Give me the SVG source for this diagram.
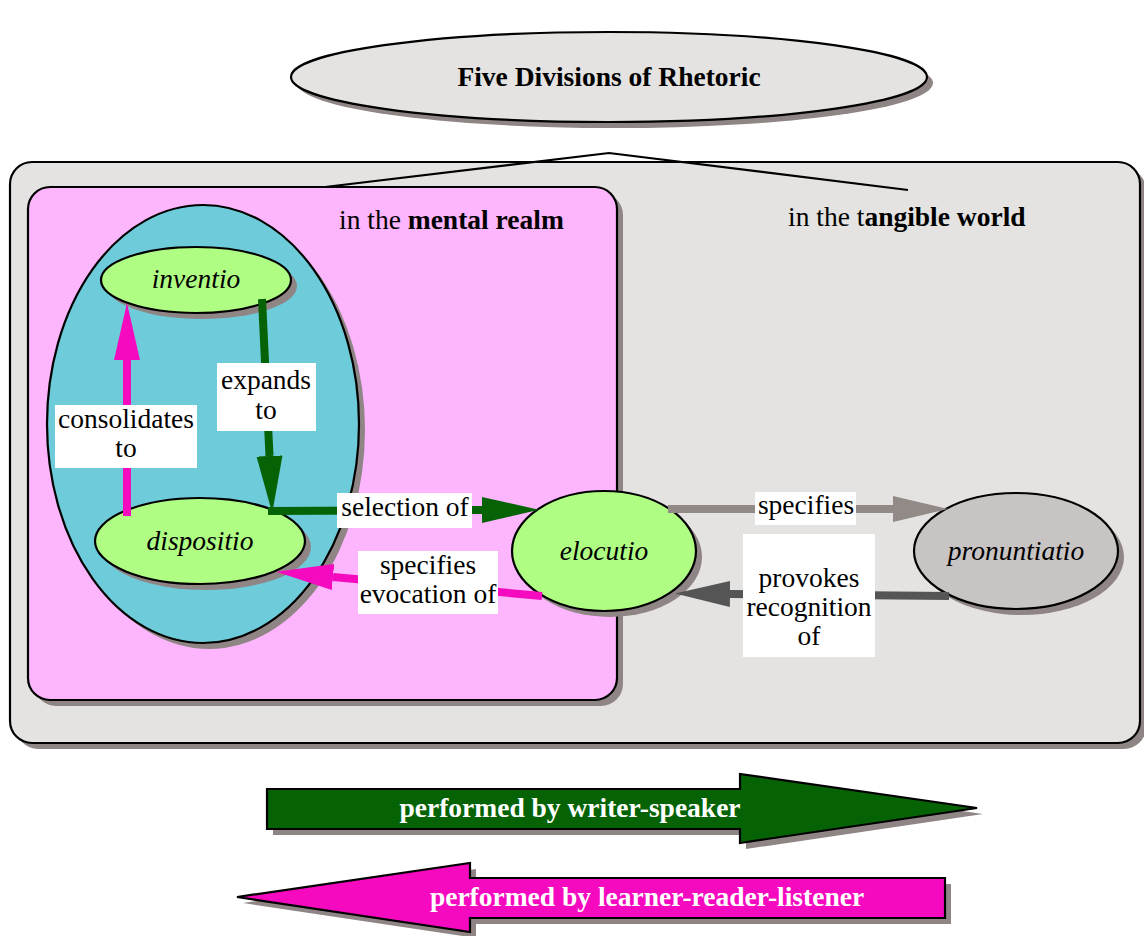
<svg xmlns="http://www.w3.org/2000/svg" width="1144" height="936" viewBox="0 0 1144 936">
<style>
.sh{fill:#8f8585;stroke:none}
.ol{stroke:#000;stroke-width:2.2}
.t{font-family:"Liberation Serif","Times New Roman",serif;font-size:27.5px;fill:#000}
.it{font-style:italic}
.b{font-weight:bold}
.lb{fill:#fff;stroke:none}
.w{fill:#fff;font-weight:bold}
</style>
<defs>
<marker id="hg" markerUnits="userSpaceOnUse" markerWidth="60" markerHeight="30" refX="0" refY="13" orient="auto"><path d="M0,0 L57,13 L0,26 z" fill="#056305"/></marker>
<marker id="hp" markerUnits="userSpaceOnUse" markerWidth="60" markerHeight="30" refX="0" refY="13" orient="auto"><path d="M0,0 L57,13 L0,26 z" fill="#f50abf"/></marker>
<marker id="hl" markerUnits="userSpaceOnUse" markerWidth="60" markerHeight="30" refX="0" refY="13" orient="auto"><path d="M0,0 L55,13 L0,26 z" fill="#918a87"/></marker>
<marker id="hd" markerUnits="userSpaceOnUse" markerWidth="60" markerHeight="30" refX="0" refY="13" orient="auto"><path d="M0,0 L55,13 L0,26 z" fill="#555555"/></marker>
</defs>
<rect width="1144" height="936" fill="#fff"/>

<g id="title">
<ellipse class="sh" cx="615" cy="83" rx="318" ry="45"/>
<ellipse class="ol" cx="609" cy="77" rx="318" ry="45" fill="#e4e3e1"/>
<text class="t b" x="609" y="86" text-anchor="middle">Five Divisions of Rhetoric</text>
</g>

<g id="tangible-world">
<rect class="sh" x="16" y="168" width="1130" height="581" rx="22"/>
<rect class="ol" x="10" y="162" width="1130" height="581" rx="22" fill="#e4e3e1"/>
<text class="t" x="788" y="226">in the t<tspan class="b">angible world</tspan></text>
</g>

<g id="mental-realm">
<rect class="sh" x="34" y="193" width="589" height="513" rx="22"/>
<rect class="ol" x="28" y="187" width="589" height="513" rx="22" fill="#fdb6fd"/>
<text class="t" x="339" y="229">in the <tspan class="b">mental realm</tspan></text>
</g>

<g id="title-links" fill="none" stroke="#000" stroke-width="2.2">
<polyline points="325,187 609,153 908,190"/>
</g>

<g id="mind">
<ellipse class="sh" cx="209" cy="430" rx="156" ry="219"/>
<ellipse class="ol" cx="203" cy="424" rx="156" ry="219" fill="#6ecbd9"/>
</g>

<g id="inventio">
<ellipse class="sh" cx="202" cy="286" rx="95" ry="33"/>
<ellipse class="ol" cx="196" cy="280" rx="95" ry="33" fill="#b0fd83"/>
<text class="t it" x="196" y="288" text-anchor="middle">inventio</text>
</g>

<g id="dispositio">
<ellipse class="sh" cx="206" cy="547" rx="105" ry="43"/>
<ellipse class="ol" cx="200" cy="541" rx="105" ry="43" fill="#b0fd83"/>
<text class="t it" x="200" y="550" text-anchor="middle">dispositio</text>
</g>

<g id="elocutio">
<ellipse class="sh" cx="610" cy="557" rx="92" ry="60"/>
<ellipse class="ol" cx="604" cy="551" rx="92" ry="60" fill="#b0fd83"/>
<text class="t it" x="604" y="560" text-anchor="middle">elocutio</text>
</g>

<g id="pronuntiatio">
<ellipse class="sh" cx="1022" cy="557" rx="102" ry="58"/>
<ellipse class="ol" cx="1016" cy="551" rx="102" ry="58" fill="#c8c4c3"/>
<text class="t it" x="1016" y="560" text-anchor="middle">pronuntiatio</text>
</g>

<g id="connectors" fill="none" stroke-width="8">
<line x1="262" y1="299" x2="269.5" y2="456" stroke="#056305" marker-end="url(#hg)"/>
<line x1="268" y1="511" x2="482" y2="510" stroke="#056305" marker-end="url(#hg)"/>
<line x1="127" y1="516" x2="127" y2="360" stroke="#f50abf" marker-end="url(#hp)"/>
<line x1="542" y1="596" x2="333" y2="577" stroke="#f50abf" marker-end="url(#hp)"/>
<line x1="668" y1="509" x2="893" y2="509" stroke="#918a87" marker-end="url(#hl)"/>
<line x1="949" y1="596" x2="730" y2="594" stroke="#555555" marker-end="url(#hd)"/>
</g>

<g id="labels">
<rect class="lb" x="217" y="363" width="99" height="68"/>
<text class="t" text-anchor="middle"><tspan x="266" y="389">expands</tspan><tspan x="266" y="419">to</tspan></text>
<rect class="lb" x="55" y="405" width="142" height="63"/>
<text class="t" text-anchor="middle"><tspan x="126" y="428">consolidates</tspan><tspan x="126" y="457">to</tspan></text>
<rect class="lb" x="337" y="493" width="135" height="35"/>
<text class="t" x="405" y="516" text-anchor="middle">selection of</text>
<rect class="lb" x="358" y="551" width="140" height="63"/>
<text class="t" text-anchor="middle"><tspan x="428" y="574">specifies</tspan><tspan x="428" y="603">evocation of</tspan></text>
<rect class="lb" x="755" y="492" width="101" height="33"/>
<text class="t" x="806" y="514" text-anchor="middle">specifies</text>
<rect class="lb" x="743" y="534" width="132" height="123"/>
<text class="t" text-anchor="middle"><tspan x="809" y="587">provokes</tspan><tspan x="809" y="616">recognition</tspan><tspan x="809" y="645">of</tspan></text>
</g>

<g id="writer-arrow">
<polygon class="sh" points="273,795 746,795 746,780 983,814 746,849 746,835 273,835"/>
<polygon class="ol" points="267,789 740,789 740,774 977,808 740,843 740,829 267,829" fill="#056305"/>
<text class="t w" x="570" y="817" text-anchor="middle">performed by writer-speaker</text>
</g>

<g id="reader-arrow">
<polygon class="sh" points="243,903 476,869 476,884 951,884 951,924 476,924 476,938"/>
<polygon class="ol" points="237,897 470,863 470,878 945,878 945,918 470,918 470,932" fill="#f50abf"/>
<text class="t w" x="647" y="906" text-anchor="middle">performed by learner-reader-listener</text>
</g>
</svg>
